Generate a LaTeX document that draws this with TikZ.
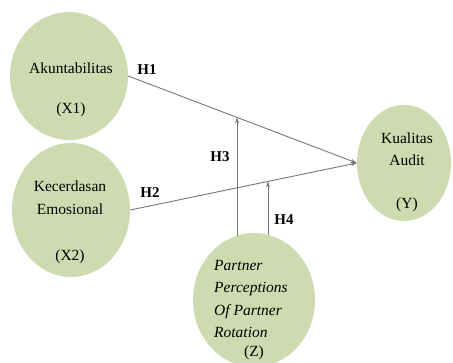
\documentclass[tikz,border=0pt]{standalone}
\usepackage{fontspec}
\setmainfont{Liberation Serif}
\usetikzlibrary{shapes.geometric,arrows.meta,calc}
\definecolor{olivefill}{RGB}{206,219,176}
\definecolor{linegray}{RGB}{118,118,118}
\begin{document}
\begin{tikzpicture}[x=1pt,y=1pt,
  var/.style={ellipse,fill=olivefill,draw=none,inner sep=0pt},
  lbl/.style={font=\fontsize{15.5}{22.5}\selectfont,align=center,inner sep=0pt},
  hyp/.style={font=\fontsize{15}{18}\selectfont\bfseries,inner sep=0pt},
  link/.style={draw=linegray,line width=0.9pt,-{Stealth[length=6pt,width=4pt]}}]
\useasboundingbox (0,0) rectangle (453,362);
% variables
\node[var,minimum width=118,minimum height=128] (x1) at (69,286) {};
\node[var,minimum width=118,minimum height=134] (x2) at (71,152) {};
\node[var,minimum width=94,minimum height=116] (y) at (404,199) {};
\node[var,minimum width=122,minimum height=134] (z) at (254,62) {};
\node[lbl] (x1t) at (71,272) {Akuntabilitas\\[17.5pt](X1)};
\node[lbl] (x2t) at (70,139.5) {Kecerdasan\\Emosional\\[23.5pt](X2)};
\node[lbl] (yt) at (407,189.5) {Kualitas\\Audit\\[20.5pt](Y)};
\node[lbl,align=left,anchor=west,font=\fontsize{15.5}{22.5}\selectfont\itshape] (zt) at (214,63)
  {Partner\\Perceptions\\Of Partner\\Rotation};
\node[lbl] (zl) at (254,9) {(Z)};
% paths
\draw[link] (x1.east) -- (y.west);
\draw[link] (x2.east) -- (y.west);
\coordinate (h3) at ($(x1.east)!0.476!(y.west)$);
\coordinate (h4) at ($(x2.east)!0.608!(y.west)$);
\draw[link] (h3 |- z.105) -- (h3);
\draw[link] (h4 |- z.78) -- (h4);
% hypotheses
\node[hyp] (lh1) at (147,292) {H1};
\node[hyp] (lh2) at (150,169) {H2};
\node[hyp] (lh3) at (220,205) {H3};
\node[hyp] (lh4) at (284,142) {H4};
\end{tikzpicture}
\end{document}
